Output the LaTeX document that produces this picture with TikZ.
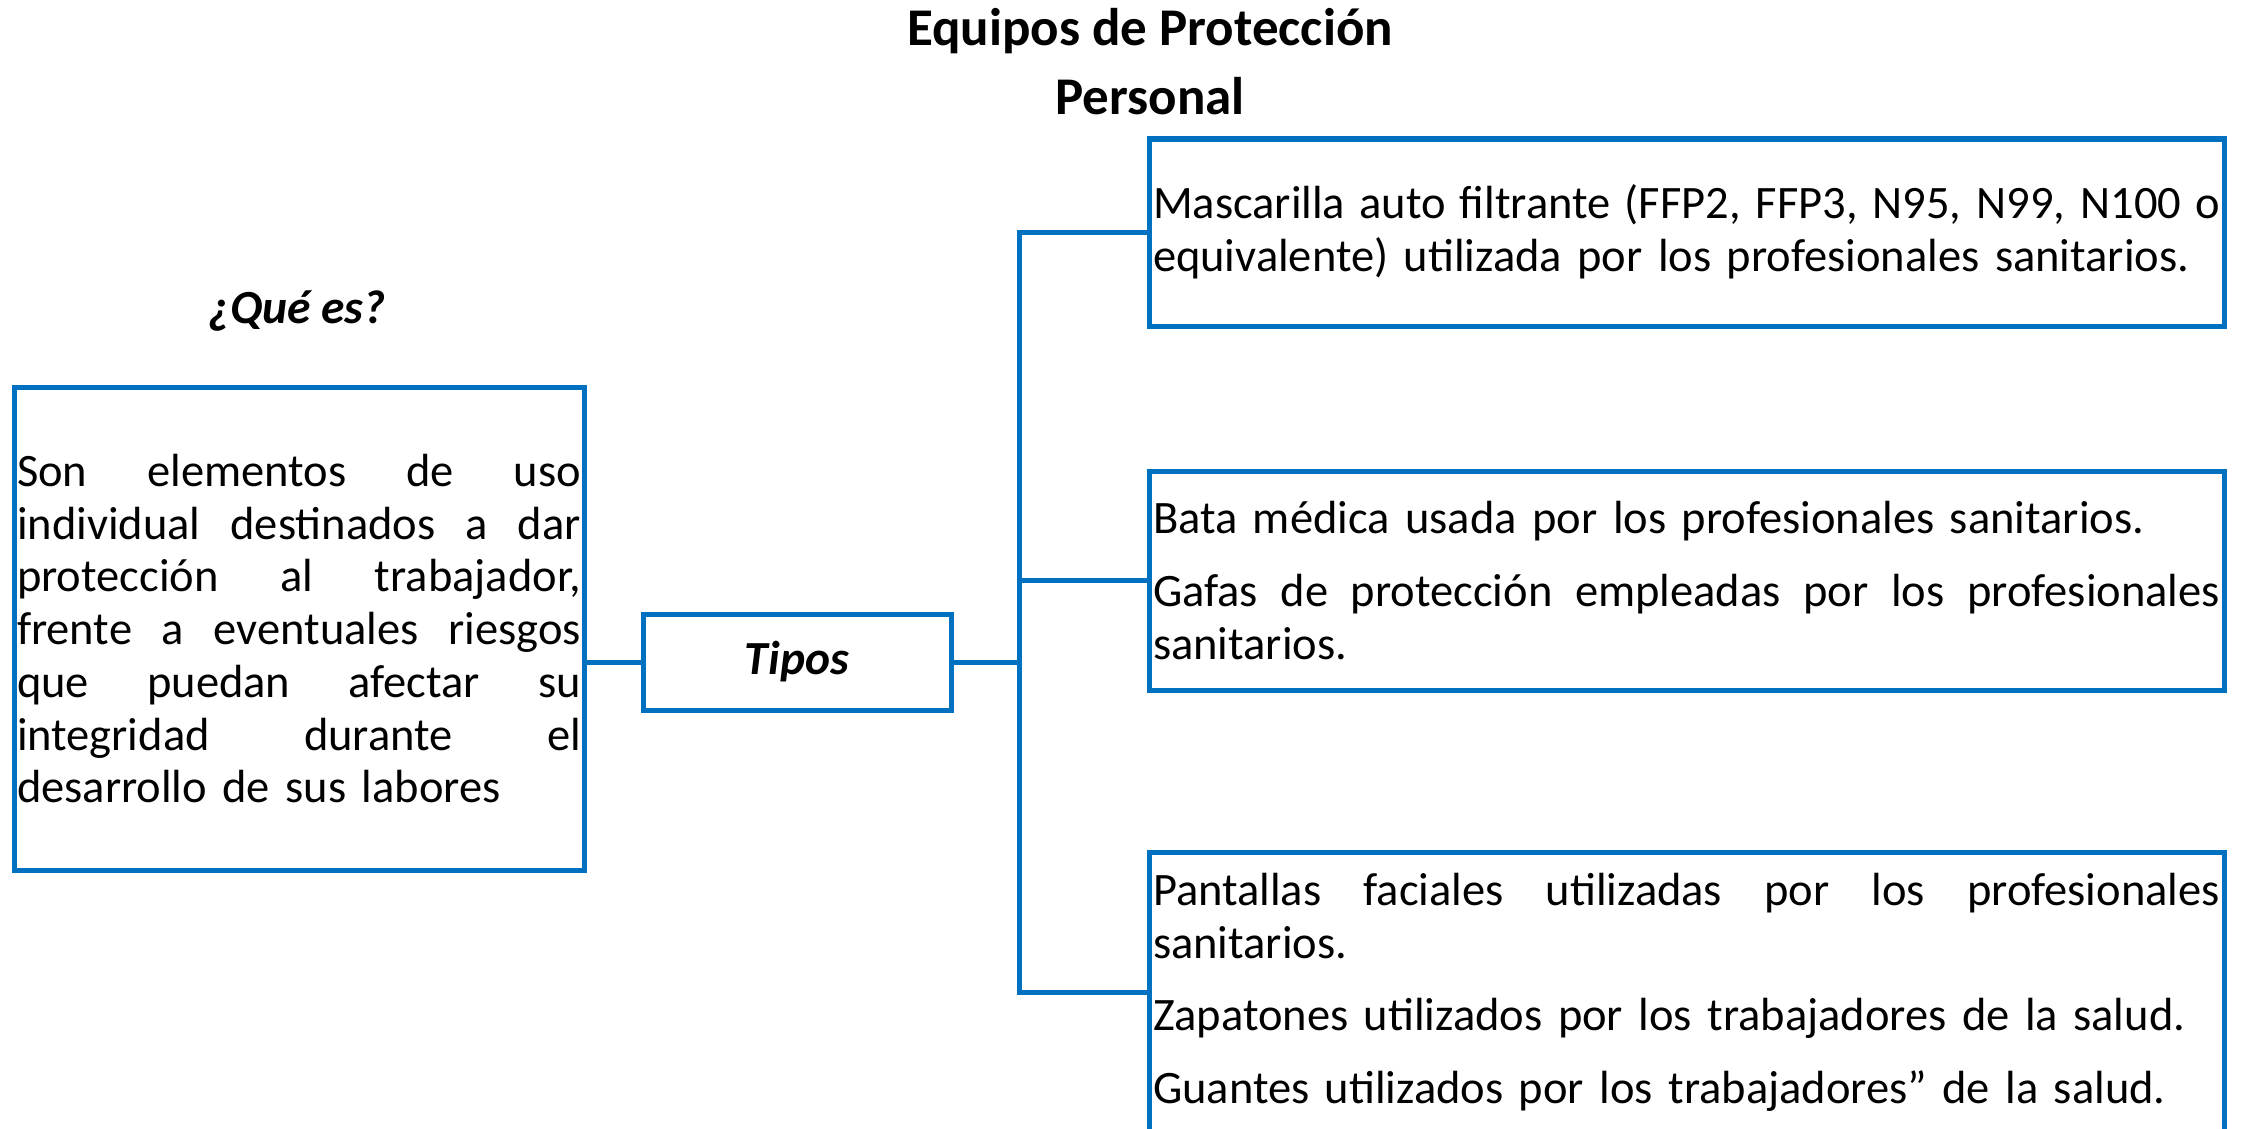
\documentclass[tikz,border=0pt]{standalone}
\usepackage{fontspec}
\setmainfont{Carlito}
\definecolor{epblue}{HTML}{0070C0}
\newdimen\epw
\newcommand\jline[1]{\par\hbox to\epw{\spaceskip=\fontdimen2\font plus 1fil\relax #1}}
\newcommand\fline[1]{\par\hbox to\epw{#1\hfil}}
\newcommand\eptail{\par\vskip20pt\hrule height0pt width0pt depth0pt\relax}
\tikzset{
  epbox/.style={draw=epblue, line width=5pt, rectangle, inner ysep=0pt,
    font=\fontsize{46.5}{52.7}\selectfont},
  eplink/.style={draw=epblue, line width=5pt},
  eptitle/.style={font=\fontsize{53}{60}\selectfont\bfseries, anchor=base, inner sep=0pt},
}
\begin{document}
\begin{tikzpicture}[x=1pt,y=-1pt]
\path[use as bounding box] (0,0) rectangle (2250,1129);
\clip (0,0) rectangle (2250,1129);

\node[eptitle] (t1) at (1150,46) {Equipos de Protección};
\node[eptitle] (t2) at (1150,115) {Personal};
\node[font=\fontsize{47.5}{52}\selectfont\bfseries\itshape, anchor=base, inner sep=0pt] (q) at (297,323) {¿Qué es?};

\node[epbox, inner xsep=3pt, text width=564pt, minimum height=483pt] (que) at (299,628.5)
{\epw=564pt\relax
 \jline{Son elementos de uso}%
 \jline{individual destinados a dar}%
 \jline{protección al trabajador,}%
 \jline{frente a eventuales riesgos}%
 \jline{que puedan afectar su}%
 \jline{integridad durante el}%
 \fline{desarrollo de sus labores}%
 \eptail};

\node[epbox, minimum width=308pt, minimum height=96pt,
  font=\fontsize{47.5}{52.7}\selectfont\bfseries\itshape] (tipos) at (797,662) {Tipos};

\node[epbox, inner xsep=4pt, text width=1067pt, minimum height=187pt] (mask) at (1686.5,232.5)
{\epw=1067pt\relax
 \jline{Mascarilla auto filtrante (FFP2, FFP3, N95, N99, N100 o}%
 \fline{equivalente) utilizada por los profesionales sanitarios.}%
 \eptail};

\node[epbox, inner xsep=4pt, text width=1067pt, minimum height=219pt] (gown) at (1686.5,580.5)
{\epw=1067pt\relax
 \fline{Bata médica usada por los profesionales sanitarios.}%
 \vskip20pt
 \jline{Gafas de protección empleadas por los profesionales}%
 \fline{sanitarios.}%
 \eptail};

\node[epbox, inner xsep=4pt, text width=1067pt, minimum height=276pt] (face) at (1686.5,992)
{\epw=1067pt\relax
 \jline{Pantallas faciales utilizadas por los profesionales}%
 \fline{sanitarios.}%
 \vskip20pt
 \fline{Zapatones utilizados por los trabajadores de la salud.}%
 \vskip20pt
 \fline{Guantes utilizados por los trabajadores” de la salud.}%
 \eptail};

\coordinate (jn) at (1019,662);
\draw[eplink] (tipos.west) -- (tipos.west -| que.east);
\draw[eplink] (tipos.east) -- (jn);
\draw[eplink] (mask.west) -| (jn) |- (face.west);
\draw[eplink] (jn |- gown.west) -- (gown.west);
\end{tikzpicture}
\end{document}
